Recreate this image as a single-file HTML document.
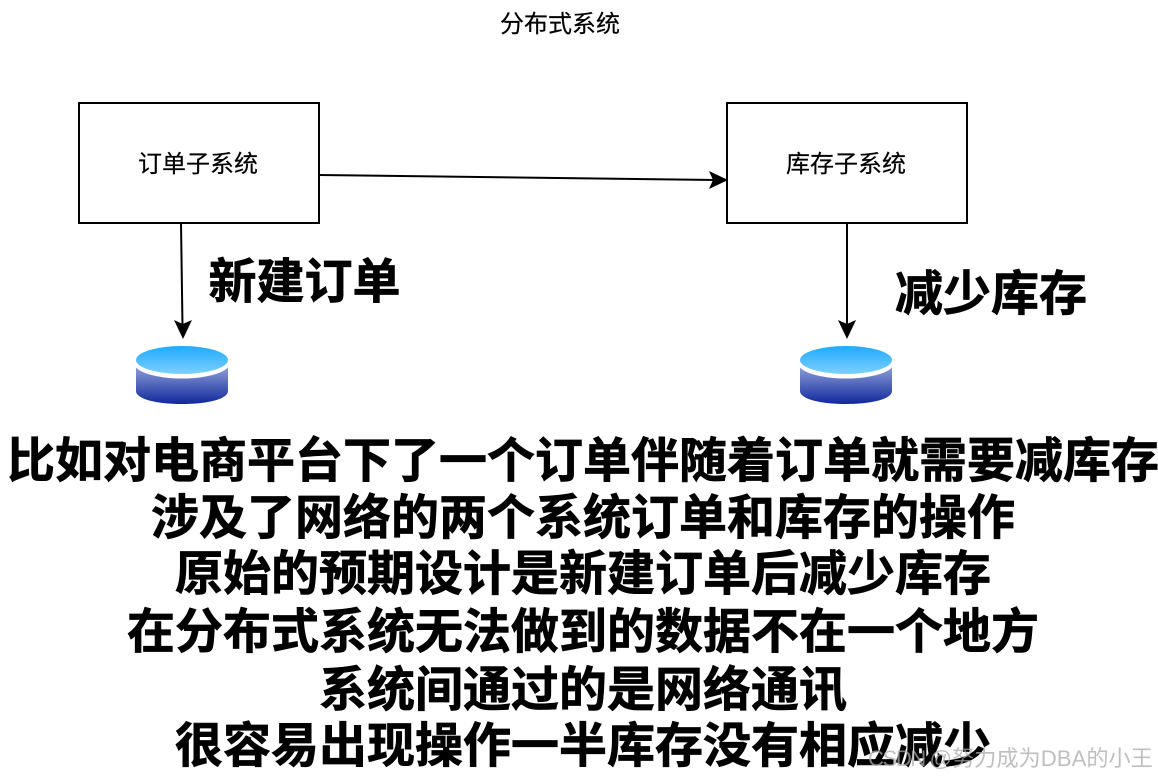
<!DOCTYPE html>
<html><head><meta charset="utf-8">
<style>
html,body{margin:0;padding:0;background:#fff;width:1158px;height:779px;overflow:hidden}
svg{display:block}
text{font-family:"Liberation Sans","Noto Sans CJK SC",sans-serif;text-anchor:middle;fill:#000}
.s{font-size:24px;stroke:#000;stroke-width:.2px}
.b{font-size:48px;font-weight:700;stroke:#000;stroke-width:.7px}
.w{font-size:22.200px;fill:#aaa;fill-opacity:.75;text-anchor:start}
</style></head><body>
<svg width="1158" height="779" viewBox="0 0 1158 779" xmlns="http://www.w3.org/2000/svg">
<defs>
<linearGradient id="t" x1="0" y1="0" x2="0" y2="1"><stop offset="0" stop-color="#1eaaff"/><stop offset="1" stop-color="#7fd0ff"/></linearGradient>
<linearGradient id="g" x1="0" y1="0" x2="0" y2="1"><stop offset="0" stop-color="#a4b4e4"/><stop offset="1" stop-color="#10289c"/></linearGradient>
<g id="db">
<path d="M0 14 V45 C0 53 20 58 46 58 C72 58 92 53 92 45 V14 Z" fill="url(#g)"/>
<ellipse cx="46" cy="17" rx="48" ry="15.500" fill="#fff"/>
<ellipse cx="46" cy="14" rx="46" ry="14" fill="url(#t)"/>
</g>
</defs>
<text class="s" x="560" y="32">分布式系统</text>
<rect x="79" y="103" width="240" height="120" fill="#fff" stroke="#000" stroke-width="2"/>
<text class="s" x="198" y="172">订单子系统</text>
<rect x="727" y="103" width="240" height="120" fill="#fff" stroke="#000" stroke-width="2"/>
<text class="s" x="846" y="172">库存子系统</text>
<line x1="319" y1="175" x2="716" y2="180" stroke="#000" stroke-width="2"/>
<path d="M728 180 L709 189 L713 180 L709 171 Z" fill="#000"/>
<line x1="181" y1="223" x2="182.500" y2="326" stroke="#000" stroke-width="2"/>
<path d="M183 339 L174 320 L182.700 324 L192 320 Z" fill="#000"/>
<line x1="847" y1="223" x2="847" y2="326" stroke="#000" stroke-width="2"/>
<path d="M847 339 L838 320 L847 324 L856 320 Z" fill="#000"/>
<use href="#db" x="136" y="346"/>
<use href="#db" x="800" y="346"/>
<text class="b" x="304.500" y="298">新建订单</text>
<text class="b" x="991" y="310">减少库存</text>
<text class="b" x="583" y="477">比如对电商平台下了一个订单伴随着订单就需要减库存</text>
<text class="b" x="583" y="534">涉及了网络的两个系统订单和库存的操作</text>
<text class="b" x="583" y="590">原始的预期设计是新建订单后减少库存</text>
<text class="b" x="583" y="648">在分布式系统无法做到的数据不在一个地方</text>
<text class="b" x="583" y="706">系统间通过的是网络通讯</text>
<text class="b" x="583" y="762">很容易出现操作一半库存没有相应减少</text>
<text class="w" x="868" y="766" textLength="84" lengthAdjust="spacing">CSDN @</text>
<text class="w" x="952" y="766">努力成为DBA的小王</text>
</svg>
</body></html>
